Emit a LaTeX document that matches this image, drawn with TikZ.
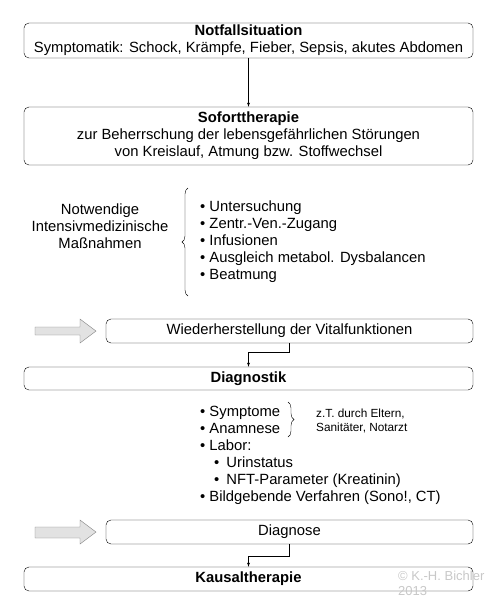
\documentclass[tikz,border=0pt]{standalone}
\usepackage{fontspec}
\setmainfont{Liberation Sans}
\usetikzlibrary{positioning,arrows,decorations.pathreplacing}
\definecolor{ArrowGray}{RGB}{226,226,226}
\definecolor{NoteGray}{RGB}{200,200,200}

\begin{document}
\begin{tikzpicture}[
    x=1pt,y=-1pt,
    font=\fontsize{14.8}{17}\selectfont,
    box/.style={rectangle,rounded corners=5pt,draw,minimum width=449pt,align=center,inner sep=0pt},
    shortbox/.style={rectangle,rounded corners=5pt,draw,minimum width=367pt,minimum height=24pt,align=center,inner sep=0pt},
    arrow/.style={-latex,thin},
    bigarrow/.style={draw=gray,fill=ArrowGray},
    brace/.style={decorate,decoration={brace,amplitude=6pt},thin}
]
\useasboundingbox (0,0) rectangle (497,600);

% Main boxes
\node[box,minimum height=35pt] (notfall) at (248.5,40.5)
    {\textbf{Notfallsituation}\\Symptomatik: Schock, Krämpfe, Fieber, Sepsis, akutes Abdomen};
\node[box,minimum height=58pt] (sofort) at (248.5,136)
    {\textbf{Soforttherapie}\\zur Beherrschung der lebensgefährlichen Störungen\\von Kreislauf, Atmung bzw. Stoffwechsel};
\node[shortbox] (vital) at (289.5,331) {Wiederherstellung der Vitalfunktionen};
\node[box,minimum height=23pt] (diag) at (248.5,378.5) {\textbf{Diagnostik}};
\node[shortbox] (diagnose) at (289.5,532) {Diagnose};
\node[box,minimum height=24pt] (kausal) at (248.5,579) {\textbf{Kausaltherapie}};

% Intensive care measures
\node[align=center] (notw) at (100,226) {Notwendige\\Intensivmedizinische\\Maßnahmen};
\node[align=left,anchor=west,inner sep=0pt] (mass) at (200,242)
    {• Untersuchung\\• Zentr.-Ven.-Zugang\\• Infusionen\\• Ausgleich metabol. Dysbalancen\\• Beatmung};
\draw[brace] (188,296) -- (188,188);

% Diagnostics
\node[align=left,anchor=west,inner sep=0pt] (befund) at (200,455)
    {• Symptome\\• Anamnese\\• Labor:\\\hspace{14pt}•\hspace{3pt} Urinstatus\\\hspace{14pt}•\hspace{3pt} NFT-Parameter (Kreatinin)\\• Bildgebende Verfahren (Sono!, CT)};
\draw[brace] (288,402) -- (288,437);
\node[align=left,anchor=west,inner sep=0pt,font=\fontsize{11.8}{14}\selectfont] (quelle) at (316,421)
    {z.T. durch Eltern,\\Sanitäter, Notarzt};

% Block arrows
\draw[bigarrow] (35,327) -- (80,327) -- (80,319) -- (96,331) -- (80,343) -- (80,335) -- (35,335) -- cycle;
\draw[bigarrow] (35,527) -- (80,527) -- (80,520) -- (96,532) -- (80,544) -- (80,538) -- (35,538) -- cycle;

% Connectors
\draw[arrow] (notfall) -- (sofort);
\draw[arrow] (vital.south) -- ++(0,9) -| (diag.north);
\draw[arrow] (diagnose.south) -- ++(0,12) -| (kausal.north);

% Copyright
\node[align=left,anchor=north west,inner sep=0pt,text=NoteGray,font=\fontsize{13}{15}\selectfont] (copy) at (398,571)
    {© K.-H. Bichler\\2013};
\end{tikzpicture}
\end{document}
